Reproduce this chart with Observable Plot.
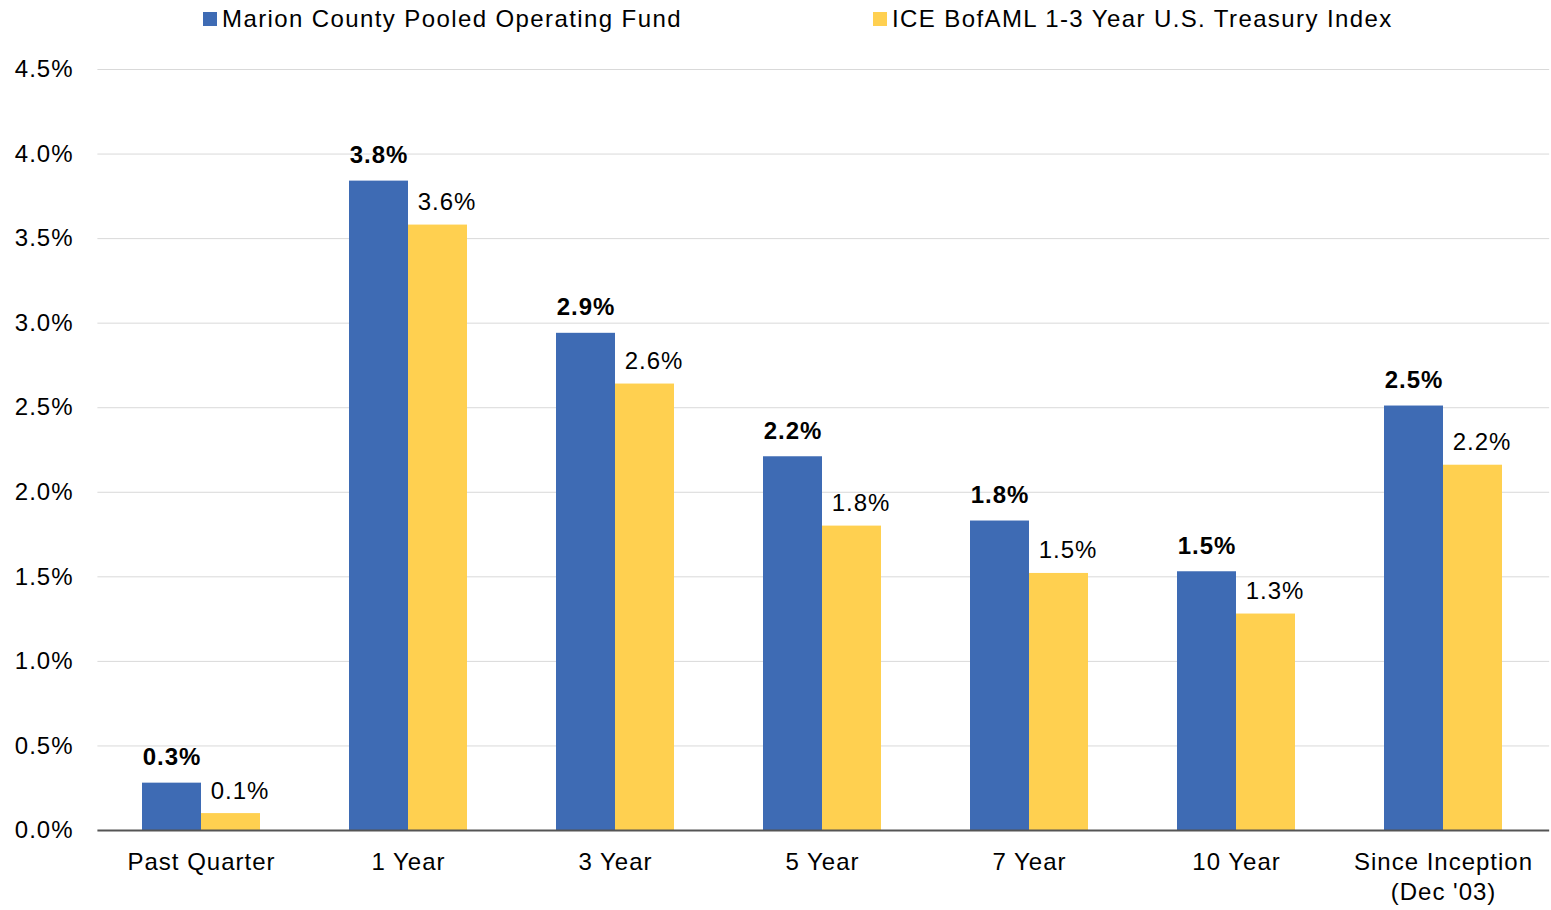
<!DOCTYPE html>
<html>
<head>
<meta charset="utf-8">
<script src="https://cdn.jsdelivr.net/npm/d3@7"></script>
<script src="https://cdn.jsdelivr.net/npm/@observablehq/plot@0.6"></script>
<style>
  html, body { margin: 0; padding: 0; background: #fff; overflow: hidden; }
  body { width: 1551px; height: 910px; font-family: "Liberation Sans", Arial, sans-serif; }
  #legend { position: relative; height: 38px; font-size: 24px; letter-spacing: 1.4px; color: #000; }
  .item { position: absolute; top: 5px; display: flex; align-items: center; white-space: nowrap; }
  .swatch { width: 14px; height: 14px; margin-right: 5px; }
</style>
</head>
<body>
<div id="legend"></div>
<div id="chart"></div>
<script>
const categories = ["Past Quarter", "1 Year", "3 Year", "5 Year", "7 Year", "10 Year", "Since Inception\n(Dec '03)"];
const seriesNames = ["Marion County Pooled Operating Fund", "ICE BofAML 1-3 Year U.S. Treasury Index"];
const seriesKeys = ["fund", "index"];
const fundValues = [0.28, 3.84, 2.94, 2.21, 1.83, 1.53, 2.51];
const indexValues = [0.10, 3.58, 2.64, 1.80, 1.52, 1.28, 2.16];
const yTicks = [0, 0.5, 1, 1.5, 2, 2.5, 3, 3.5, 4, 4.5];
const colors = ["#3E6BB4", "#FFD050"];

const rows = [];
categories.forEach((c, i) => {
  rows.push({cat: c, series: "fund", value: fundValues[i]});
  rows.push({cat: c, series: "index", value: indexValues[i]});
});
const fmt = d => d.toFixed(1) + "%";

// legend
const legend = document.getElementById("legend");
const legendLeft = [203, 873];
seriesNames.forEach((name, i) => {
  const it = document.createElement("div");
  it.className = "item";
  it.style.left = legendLeft[i] + "px";
  it.innerHTML = `<span class="swatch" style="background:${colors[i]}"></span><span>${name}</span>`;
  legend.appendChild(it);
});

const W = 1551, ML = 96, MR = 3, PIN = 0.43, POUT = 0.215;
const step = (W - ML - MR) / (categories.length - PIN + 2 * POUT);
const outerGap = step * POUT;
const bandW = step * (1 - PIN);
const extLeft = -outerGap;
const extRight = -(W - MR - (ML + outerGap + bandW));

// horizontal rules are drawn once, in the first facet, extended over the whole frame
const gridRows = yTicks.filter(d => d > 0).map(v => ({cat: categories[0], v}));
const baseRows = [{cat: categories[0], v: 0}];

const chart = Plot.plot({
  width: W,
  height: 872,
  marginTop: 31,
  marginBottom: 80,
  marginLeft: ML,
  marginRight: MR,
  style: {fontFamily: "'Liberation Sans', Arial, sans-serif", fontSize: "24px", letterSpacing: "1px", color: "#000", background: "#fff", overflow: "visible"},
  fx: {domain: categories, paddingInner: PIN, paddingOuter: POUT, label: null},
  x: {domain: seriesKeys, padding: 0, axis: null},
  y: {domain: [0, 4.5], ticks: yTicks, tickFormat: fmt, tickSize: 0, tickPadding: Math.round(24 + outerGap), label: null},
  color: {domain: seriesKeys, range: colors},
  marks: [
    Plot.ruleY(gridRows, {fx: "cat", y: "v", stroke: "#d9d9d9", strokeWidth: 1, insetLeft: extLeft, insetRight: extRight}),
    Plot.barY(rows, {fx: "cat", x: "series", y: "value", fill: "series"}),
    Plot.ruleY(baseRows, {fx: "cat", y: "v", stroke: "#555", strokeWidth: 2, insetLeft: extLeft, insetRight: extRight}),
    Plot.text(rows.filter(d => d.series === "fund"), {fx: "cat", x: "series", y: "value", text: d => fmt(d.value), lineAnchor: "bottom", dy: -18, fontWeight: "bold", fontSize: 24, fill: "#000"}),
    Plot.text(rows.filter(d => d.series === "index"), {fx: "cat", x: "series", y: "value", text: d => fmt(d.value), lineAnchor: "bottom", dy: -15, dx: 9, fontSize: 24, fill: "#000"}),
    Plot.axisFx({anchor: "bottom", tickSize: 0, tickPadding: 19, lineHeight: 1.22, fontSize: 24, label: null})
  ]
});
document.getElementById("chart").appendChild(chart);
</script>
</body>
</html>
